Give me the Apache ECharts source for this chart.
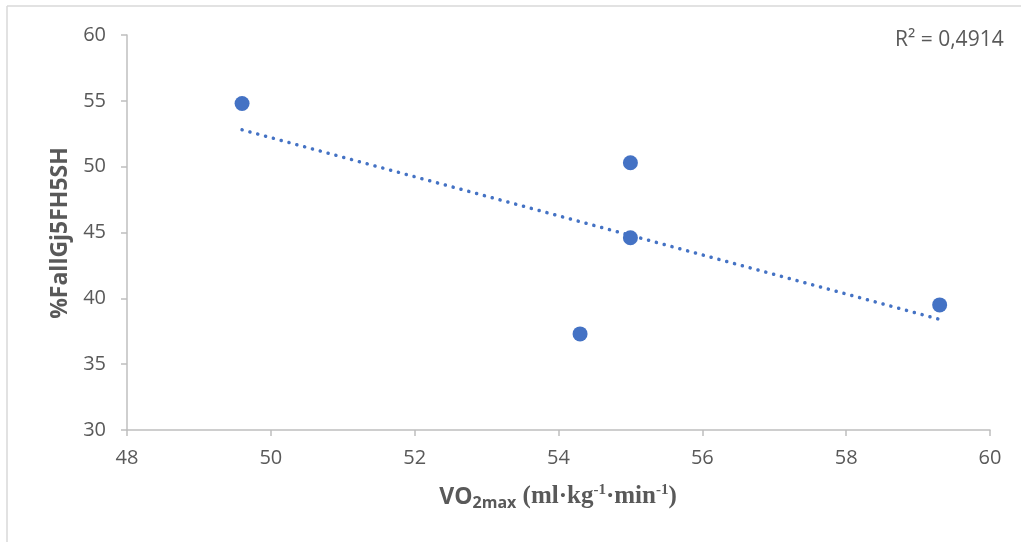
<!DOCTYPE html>
<html>
<head>
<meta charset="utf-8">
<script src="https://cdn.jsdelivr.net/npm/echarts@6/dist/echarts.min.js"></script>
<style>
html, body { margin: 0; padding: 0; background: #fff; }
#chart { width: 1021px; height: 542px; }
</style>
</head>
<body>
<div id="chart"></div>
<script>
// measured points (VO2max, %FallGj5FH5SH)
var vo2 = [49.6, 55.0, 55.0, 54.3, 59.3];
var pct = [54.8, 50.3, 44.6, 37.3, 39.5];
// trendline ends
var trendX = [49.6, 59.3];
var trendY = [52.8, 38.4];
var r2Label = "R² = 0,4914";

var points = vo2.map(function (v, i) { return [v, pct[i]]; });
var trend = trendX.map(function (v, i) { return [v, trendY[i]]; });

var grey = "#595959";
var axisGrey = "#bfbfbf";

var myChart = echarts.init(document.getElementById("chart"));
myChart.setOption({
	animation: false,
	grid: { left: 127, right: 31, top: 35, bottom: 112 },
	xAxis: {
		type: "value",
		min: 48, max: 60, interval: 2,
		axisLine: { show: true, onZero: false, lineStyle: { color: axisGrey, width: 1.5 } },
		axisTick: { show: true, length: 6, lineStyle: { color: axisGrey, width: 1.5 } },
		splitLine: { show: false },
		axisLabel: { color: grey, fontSize: 20, fontFamily: "Open Sans", margin: 18 }
	},
	yAxis: {
		type: "value",
		min: 30, max: 60, interval: 5,
		axisLine: { show: true, onZero: false, lineStyle: { color: axisGrey, width: 1.5 } },
		axisTick: { show: true, length: 6, lineStyle: { color: axisGrey, width: 1.5 } },
		splitLine: { show: false },
		axisLabel: { color: grey, fontSize: 20, fontFamily: "Open Sans", margin: 21 }
	},
	graphic: [
		{ type: "line", shape: { x1: 7, y1: 6, x2: 1021, y2: 6 }, style: { stroke: "#d9d9d9", lineWidth: 1.5 } },
		{ type: "line", shape: { x1: 7, y1: 6, x2: 7, y2: 542 }, style: { stroke: "#d9d9d9", lineWidth: 1.5 } },
		{
			type: "text", left: 895, top: 30,
			style: { text: r2Label, fill: grey, font: "21px 'Open Sans'" }
		},
		{
			type: "text", x: 60, y: 233, rotation: Math.PI / 2,
			style: { text: "%FallGj5FH5SH", fill: grey, font: "bold 23px 'Open Sans'", align: "center", verticalAlign: "middle" }
		},
		{
			type: "text", x: 558, y: 497,
			style: {
				text: "{a|VO}{b|2max}{c| (ml·kg}{d|-1}{c|·min}{d|-1}{c|)}",
				align: "center", verticalAlign: "middle",
				rich: {
					a: { fill: grey, font: "bold 23px 'Open Sans'" },
					b: { fill: grey, font: "bold 16px 'Open Sans'", verticalAlign: "bottom", padding: [12, 0, 0, 0] },
					c: { fill: grey, font: "bold 25px 'Liberation Serif'" },
					d: { fill: grey, font: "bold 15px 'Liberation Serif'", verticalAlign: "top", padding: [0, 0, 12, 0] }
				}
			}
		}
	],
	series: [
		{
			type: "line",
			data: trend,
			symbol: "none",
			lineStyle: { color: "#4472C4", width: 3.5, type: [0.1, 8], cap: "round" },
			z: 1
		},
		{
			type: "scatter",
			data: points,
			symbolSize: 15,
			itemStyle: { color: "#4472C4", opacity: 1 },
			z: 2
		}
	]
});
</script>
</body>
</html>
